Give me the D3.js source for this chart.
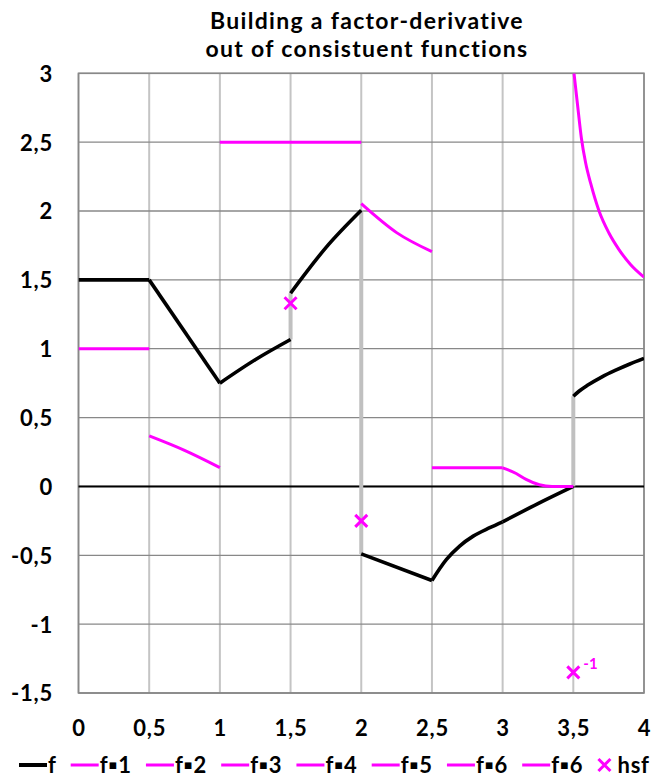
<!DOCTYPE html>
<html>
<head>
<meta charset="utf-8">
<script src="https://cdn.jsdelivr.net/npm/d3@7"></script>
<style>
  body { margin: 0; background: #fff; }
  svg text { font-family: Lato, "Open Sans", sans-serif; font-weight: 700; fill: #000; }
</style>
</head>
<body>
<div id="chart"></div>
<script>
// ticks
const xTicks = [0, 0.5, 1, 1.5, 2, 2.5, 3, 3.5, 4];
const yTicks = [3, 2.5, 2, 1.5, 1, 0.5, 0, -0.5, -1, -1.5];

// f, piece by piece (jumps at 1.5, 2 and 3.5)
const fPieces = [
    [[0, 1.5], [0.5, 1.5]],
    [[0.5, 1.5], [1, 0.75]],
    [[1, 0.75], [1.25, 0.92], [1.5, 1.067]],
    [[1.5, 1.403], [1.75, 1.734], [2, 2.005]],
    [[2, -0.49], [2.5, -0.683]],
    [[2.5, -0.683], [2.603, -0.53], [2.696, -0.433], [2.792, -0.361], [2.909, -0.3], [3, -0.257]],
    [[3, -0.257], [3.25, -0.125], [3.5, 0]],
    [[3.5, 0.655], [3.54, 0.691], [3.6, 0.734], [3.7, 0.794], [3.8, 0.844], [3.9, 0.889], [4, 0.93]]
];

// constituent functions f▪k
const fk1 = [[0, 1], [0.5, 1]];
const fk2 = [[0.5, 0.367], [0.75, 0.262], [1, 0.137]];
const fk3 = [[1, 2.5], [2, 2.5]];
const fk4 = [[2, 2.053], [2.25, 1.843], [2.5, 1.705]];
const fk5 = [[2.5, 0.135], [3, 0.135]];
const fk6a = [[3, 0.135], [3.096, 0.094], [3.166, 0.051], [3.26, 0.012], [3.35, 0], [3.5, 0]];
const fk6b = [[3.505, 3.0], [3.53, 2.77], [3.557, 2.53], [3.587, 2.35], [3.623, 2.2], [3.682, 2.0],
              [3.752, 1.84], [3.823, 1.72], [3.906, 1.61], [4, 1.52]];
const fkNames = ["f▪1", "f▪2", "f▪3", "f▪4", "f▪5", "f▪6", "f▪6"];
const fkSeries = [fk1, fk2, fk3, fk4, fk5, fk6a, fk6b];

// gray jump connectors
const jumpX = [1.5, 2, 3.5];
const jumpLo = [1.067, -0.49, 0];
const jumpHi = [1.403, 2.005, 0.655];

// hsf points
const hsfX = [1.5, 2, 3.5];
const hsfY = [1.33, -0.25, -1.35];
const hsfNote = ["", "", "-1"];

const W = 663, H = 778;
const plotL = 78.5, plotR = 644, plotT = 73.3, plotB = 693;
const magenta = "#ff00ff";

const svg = d3.select("#chart").append("svg")
    .attr("width", W)
    .attr("height", H);

const x = d3.scaleLinear().domain([0, 4]).range([plotL, plotR]);
const y = d3.scaleLinear().domain([-1.5, 3]).range([plotB, plotT]);
const comma = v => String(v).replace(".", ",");

// title
svg.append("text")
    .attr("x", 367).attr("y", 29)
    .attr("text-anchor", "middle")
    .style("font-size", "23px")
    .style("letter-spacing", "1.3px")
    .text("Building a factor-derivative");
svg.append("text")
    .attr("x", 367).attr("y", 57)
    .attr("text-anchor", "middle")
    .style("font-size", "23px")
    .style("letter-spacing", "1.3px")
    .text("out of consistuent functions");

// grid
svg.append("g").selectAll("line")
    .data(xTicks)
    .join("line")
    .attr("x1", d => x(d)).attr("x2", d => x(d))
    .attr("y1", plotT).attr("y2", plotB)
    .attr("stroke", "#c4c4c4")
    .attr("stroke-width", 2);

svg.append("g").selectAll("line")
    .data(yTicks)
    .join("line")
    .attr("x1", plotL).attr("x2", plotR)
    .attr("y1", d => y(d)).attr("y2", d => y(d))
    .attr("stroke", "#888")
    .attr("stroke-width", 1.3);

svg.append("rect")
    .attr("x", plotL).attr("y", plotT)
    .attr("width", plotR - plotL).attr("height", plotB - plotT)
    .attr("fill", "none")
    .attr("stroke", "#888")
    .attr("stroke-width", 1.6);

// axes labels
const xAxis = svg.append("g")
    .attr("transform", `translate(0, ${plotB + 43})`)
    .call(d3.axisBottom(x).tickValues(xTicks).tickFormat(comma).tickSize(0).tickPadding(0));
xAxis.select(".domain").remove();
xAxis.selectAll("text").style("font-size", "22px").style("letter-spacing", "0.8px").attr("dy", 0);

const yAxis = svg.append("g")
    .attr("transform", `translate(53, 0)`)
    .call(d3.axisLeft(y).tickValues(yTicks).tickFormat(comma).tickSize(0).tickPadding(0));
yAxis.select(".domain").remove();
yAxis.selectAll("text").style("font-size", "22px").style("letter-spacing", "0.8px").attr("dy", "0.36em");

// zero line
svg.append("line")
    .attr("x1", x(0)).attr("x2", x(4))
    .attr("y1", y(0)).attr("y2", y(0))
    .attr("stroke", "#000")
    .attr("stroke-width", 2);

svg.append("clipPath").attr("id", "plot")
    .append("rect")
    .attr("x", plotL).attr("y", plotT)
    .attr("width", plotR - plotL).attr("height", plotB - plotT);

const plot = svg.append("g").attr("clip-path", "url(#plot)");

plot.selectAll(".jump")
    .data(jumpX)
    .join("line")
    .attr("class", "jump")
    .attr("x1", d => x(d)).attr("x2", d => x(d))
    .attr("y1", (d, i) => y(jumpLo[i])).attr("y2", (d, i) => y(jumpHi[i]))
    .attr("stroke", "#c0c0c0")
    .attr("stroke-width", 4);

const line = d3.line()
    .x(d => x(d[0]))
    .y(d => y(d[1]))
    .curve(d3.curveMonotoneX);

plot.selectAll(".f")
    .data(fPieces)
    .join("path")
    .attr("class", "f")
    .attr("d", line)
    .attr("fill", "none")
    .attr("stroke", "#000")
    .attr("stroke-width", 3.6);

plot.selectAll(".fk")
    .data(fkSeries)
    .join("path")
    .attr("class", "fk")
    .attr("d", line)
    .attr("fill", "none")
    .attr("stroke", magenta)
    .attr("stroke-width", 3);

// hsf crosses
const hsf = svg.selectAll(".hsf")
    .data(hsfX)
    .join("g")
    .attr("class", "hsf")
    .attr("transform", (d, i) => `translate(${x(d)}, ${y(hsfY[i])})`);
hsf.append("path")
    .attr("d", "M-6,-6L6,6M-6,6L6,-6")
    .attr("stroke", magenta)
    .attr("stroke-width", 3);
hsf.append("text")
    .attr("x", 10).attr("y", -3)
    .style("font-size", "15px")
    .style("fill", magenta)
    .text((d, i) => hsfNote[i]);

// legend
const legend = svg.append("g").attr("transform", "translate(0, 765)");
const items = [{ name: "f", color: "#000", w: 4, kind: "line" }]
    .concat(fkNames.map(n => ({ name: n, color: magenta, w: 3, kind: "line" })))
    .concat([{ name: "hsf", color: magenta, kind: "x" }]);

let cx = 19;
items.forEach(it => {
    const g = legend.append("g").attr("transform", `translate(${cx}, 0)`);
    let tx;
    if (it.kind === "line") {
        g.append("line")
            .attr("x1", 0).attr("x2", 28)
            .attr("stroke", it.color)
            .attr("stroke-width", it.w);
        tx = 29;
    } else {
        g.append("path")
            .attr("d", "M-6,-6L6,6M-6,6L6,-6")
            .attr("transform", "translate(7,0)")
            .attr("stroke", it.color)
            .attr("stroke-width", 3);
        tx = 20;
    }
    const t = g.append("text")
        .attr("x", tx).attr("dy", "0.36em")
        .style("font-size", "22px")
        .style("letter-spacing", "0.8px")
        .text(it.name);
    cx += tx + t.node().getComputedTextLength() + 14;
});
</script>
</body>
</html>
